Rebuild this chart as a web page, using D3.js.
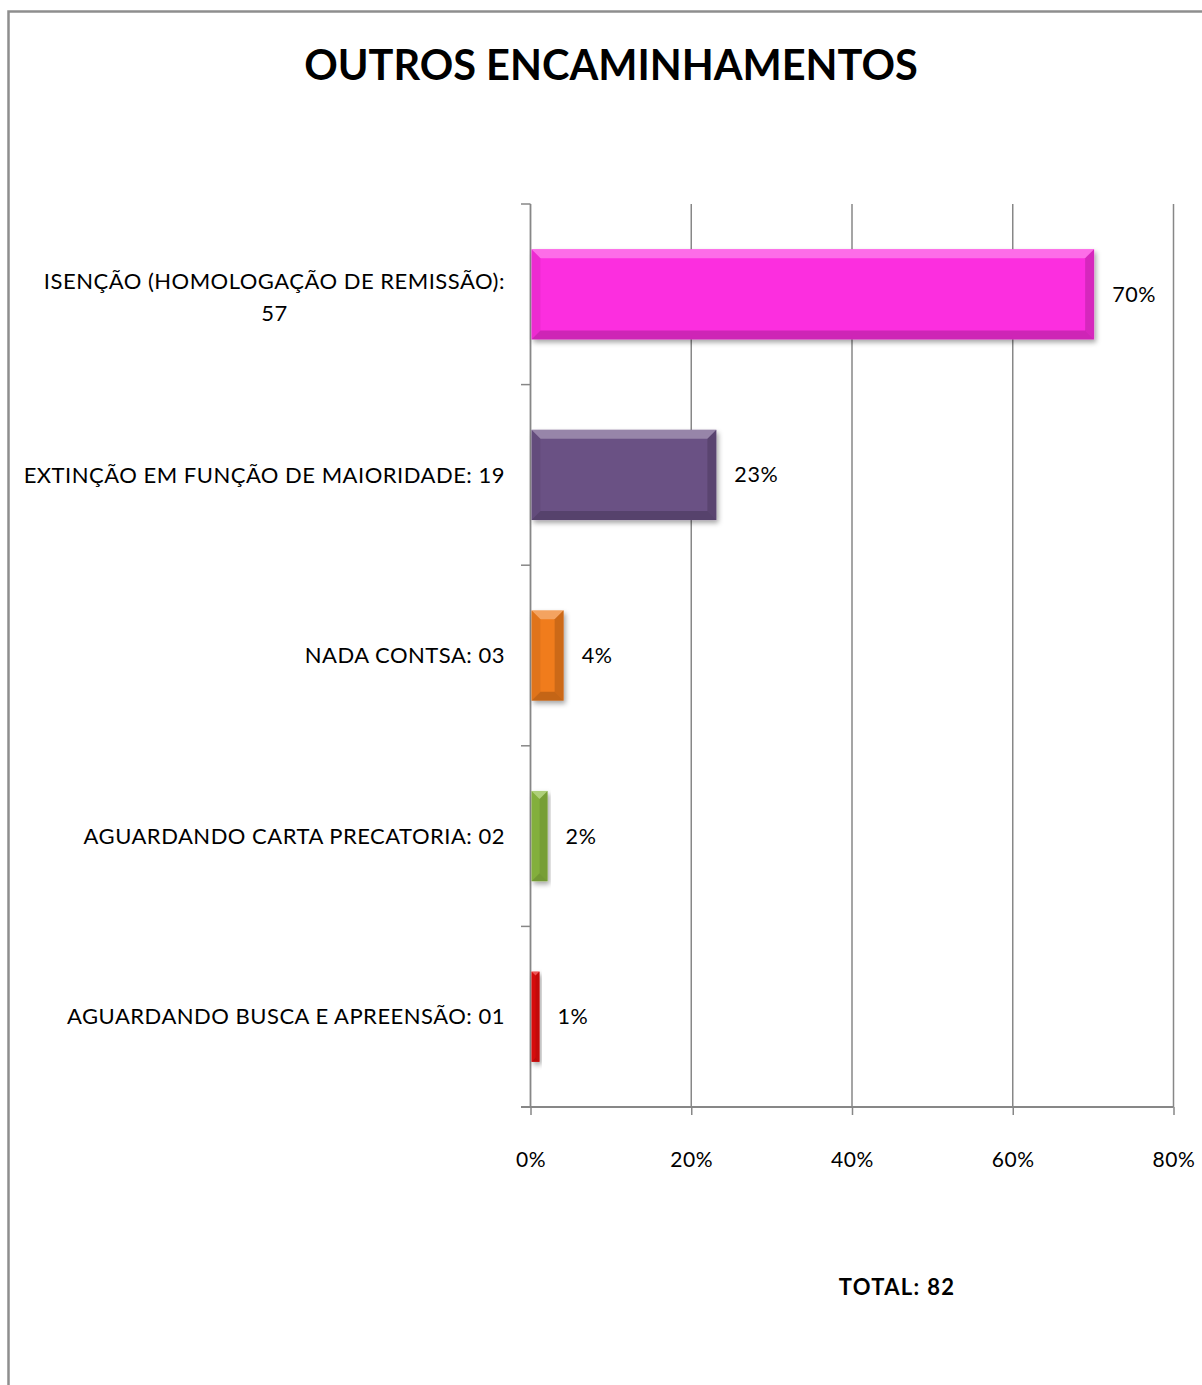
<!DOCTYPE html>
<html>
<head>
<meta charset="utf-8">
<script src="https://cdn.jsdelivr.net/npm/d3@7"></script>
<style>
  html, body { margin: 0; padding: 0; background: #fff; }
  svg { display: block; }
  text { font-family: Lato, "Open Sans", sans-serif; fill: #000; }
</style>
</head>
<body>
<svg id="chart" width="1202" height="1385"></svg>
<script>
// ---- data ----
const title = "OUTROS ENCAMINHAMENTOS";
const categories = [
  "ISENÇÃO (HOMOLOGAÇÃO DE REMISSÃO): 57",
  "EXTINÇÃO EM FUNÇÃO DE MAIORIDADE: 19",
  "NADA CONTSA: 03",
  "AGUARDANDO CARTA PRECATORIA: 02",
  "AGUARDANDO BUSCA E APREENSÃO: 01"
];
const percentValues = [70, 23, 4, 2, 1];
const barColors = ["#fc2ddf", "#6a5184", "#f07b1a", "#8cba3f", "#e40808"];
const xTicks = [0, 20, 40, 60, 80];
const totalLabel = "TOTAL: 82";

// ---- layout ----
const svg = d3.select("#chart");
svg.append("rect").attr("width", 1202).attr("height", 1385).attr("fill", "#fff");
svg.append("rect").attr("x", 8.5).attr("y", 11.5).attr("width", 1400).attr("height", 1600)
  .attr("fill", "none").attr("stroke", "#8e8e8e").attr("stroke-width", 2.5);

const x = d3.scaleLinear().domain([0, 80]).range([530.5, 1173.5]);
const y = d3.scaleBand().domain(categories).range([204, 1107]).paddingInner(0.5).paddingOuter(0.25);

const defs = svg.append("defs");
const f = defs.append("filter").attr("id", "shadow").attr("x", "-20%").attr("y", "-20%").attr("width", "140%").attr("height", "150%");
f.append("feDropShadow").attr("dx", 2).attr("dy", 3).attr("stdDeviation", 2.5).attr("flood-color", "#000").attr("flood-opacity", 0.35);

// gridlines
const gridColor = "#878787";
svg.append("g").selectAll("line").data(xTicks.filter(d => d > 0)).join("line")
  .attr("x1", d => x(d)).attr("x2", d => x(d))
  .attr("y1", y.range()[0]).attr("y2", y.range()[1])
  .attr("stroke", gridColor).attr("stroke-width", 1.5);

// x axis
const xAxis = d3.axisBottom(x).tickValues(xTicks).tickFormat(d => d + "%")
  .tickSizeInner(8).tickSizeOuter(0).tickPadding(37);
const gx = svg.append("g").attr("transform", `translate(0,${y.range()[1]})`).call(xAxis);
gx.select(".domain").remove();
gx.selectAll(".tick line").attr("stroke", gridColor).attr("stroke-width", 1.5);
gx.selectAll(".tick text").attr("font-size", 21).attr("letter-spacing", 0.6)
  .attr("font-family", "Lato, sans-serif").attr("fill", "#000");
svg.append("line").attr("x1", 521).attr("x2", x(80)).attr("y1", y.range()[1]).attr("y2", y.range()[1])
  .attr("stroke", gridColor).attr("stroke-width", 1.8);

// y axis line and ticks at band boundaries
svg.append("line").attr("x1", x(0)).attr("x2", x(0)).attr("y1", y.range()[0]).attr("y2", y.range()[1])
  .attr("stroke", gridColor).attr("stroke-width", 1.8);
const bounds = d3.range(categories.length + 1).map(i => y.range()[0] + i * y.step());
svg.append("g").selectAll("line").data(bounds).join("line")
  .attr("x1", 521).attr("x2", x(0)).attr("y1", d => d).attr("y2", d => d)
  .attr("stroke", gridColor).attr("stroke-width", 1.5);

// bars with bevel
const bars = svg.append("g").selectAll("g").data(categories).join("g");
bars.each(function(c, i) {
  const g = d3.select(this);
  const x0 = x(0) + 1, w = x(percentValues[i]) - x(0);
  const y0 = y(c), h = y.bandwidth();
  const b = Math.min(9, w / 2, h / 2);
  g.append("rect").attr("x", x0).attr("y", y0).attr("width", w).attr("height", h)
    .attr("fill", barColors[i]).attr("filter", "url(#shadow)");
  const poly = (pts, fill, op) => g.append("polygon").attr("points", pts.map(p => p.join(",")).join(" "))
    .attr("fill", fill).attr("fill-opacity", op);
  poly([[x0, y0], [x0 + w, y0], [x0 + w - b, y0 + b], [x0 + b, y0 + b]], "#fff", 0.3);
  poly([[x0, y0 + h], [x0 + w, y0 + h], [x0 + w - b, y0 + h - b], [x0 + b, y0 + h - b]], "#000", 0.18);
  poly([[x0, y0], [x0 + b, y0 + b], [x0 + b, y0 + h - b], [x0, y0 + h]], "#000", 0.06);
  poly([[x0 + w, y0], [x0 + w - b, y0 + b], [x0 + w - b, y0 + h - b], [x0 + w, y0 + h]], "#000", 0.15);
});

// value labels
svg.append("g").selectAll("text").data(categories).join("text")
  .attr("x", (c, i) => x(percentValues[i]) + 19)
  .attr("y", c => y(c) + y.bandwidth() / 2)
  .attr("dy", "0.35em").attr("font-size", 21.5).attr("letter-spacing", 0.6)
  .text((c, i) => percentValues[i] + "%");

// category labels (wrapped when too long)
const labelRight = 505, maxW = 488, ls = 0.5, fs = 22;
const lg = svg.append("g");
categories.forEach(c => {
  const cy = y(c) + y.bandwidth() / 2;
  const t = lg.append("text").attr("font-size", fs).attr("letter-spacing", ls)
    .attr("text-anchor", "end").attr("x", labelRight).attr("y", cy).attr("dy", "0.35em").text(c);
  if (t.node().getComputedTextLength() > maxW) {
    const words = c.split(" ");
    const last = words.pop();
    const first = words.join(" ");
    t.text(first).attr("y", cy - 16 + 3);
    const w1 = t.node().getComputedTextLength();
    lg.append("text").attr("font-size", fs).attr("letter-spacing", ls)
      .attr("text-anchor", "middle").attr("x", labelRight - w1 / 2).attr("y", cy + 16 + 3)
      .attr("dy", "0.35em").text(last);
  }
});

// title
svg.append("text").attr("x", 611).attr("y", 80).attr("text-anchor", "middle")
  .attr("font-size", 41.5).attr("font-weight", "bold").text(title);

// total
svg.append("text").attr("x", 897).attr("y", 1295).attr("text-anchor", "middle")
  .attr("font-size", 22).attr("letter-spacing", 1.3).attr("font-weight", "bold").text(totalLabel);
</script>
</body>
</html>
